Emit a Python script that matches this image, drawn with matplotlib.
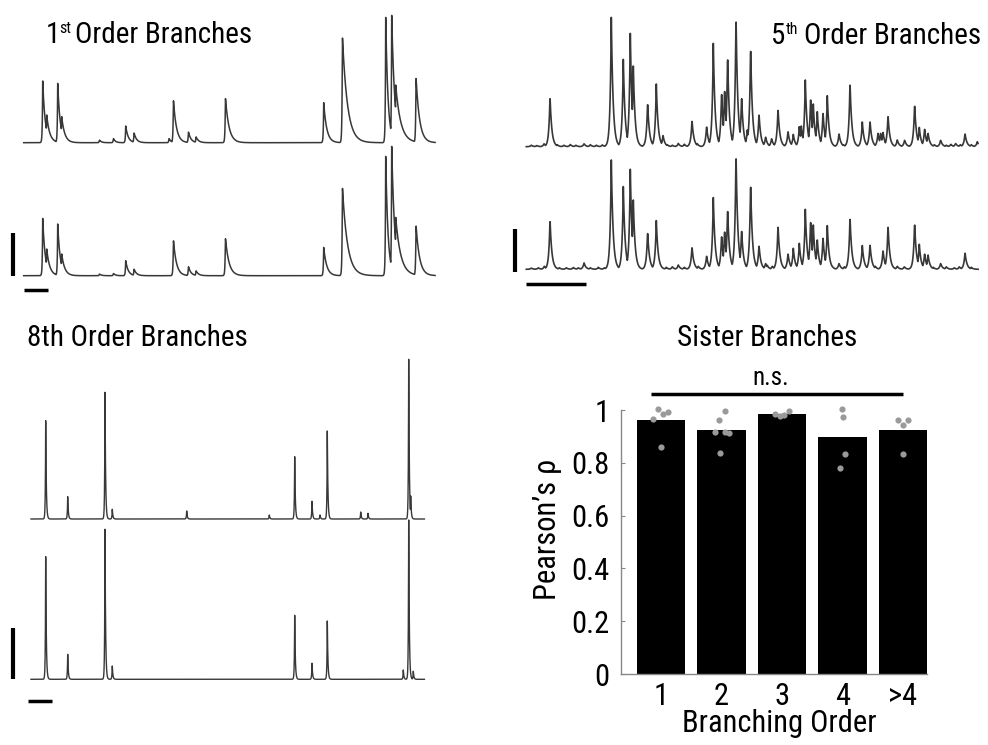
import numpy as np
import matplotlib
matplotlib.use("Agg")
import matplotlib.pyplot as plt
from matplotlib import font_manager as fm

W, H = 988, 745

# ---- font: prefer a condensed sans ----
_names = {f.name for f in fm.fontManager.ttflist}
FONT = "DejaVu Sans"
for cand in ["Roboto Condensed", "Liberation Sans Narrow", "Open Sans Condensed", "Liberation Sans"]:
    if cand in _names:
        FONT = cand
        break
plt.rcParams["font.family"] = [FONT, "DejaVu Sans"]

# ---- 1st order branches: event times, peak amplitudes, decay constants ----
p1_top_t = [19.0, 23.0, 34.0, 38.0, 75.7, 89.7, 102.0, 110.3, 145.3, 149.7, 164.7, 172.3,
            201.7, 300.0, 318.7, 362.0, 368.0, 372.0, 392.3]
p1_top_a = [61.7, 27.7, 59.3, 26.0, 2.7, 4.3, 16.7, 10.0, 4.3, 43.3, 11.0, 6.0,
            45.3, 40.0, 106.7, 125.3, 127.3, 57.7, 66.0]
p1_bot_t = [19.0, 23.0, 34.0, 38.0, 75.7, 89.7, 102.0, 110.3, 149.7, 164.7, 172.3,
            201.7, 300.0, 318.7, 334.7, 362.0, 368.0, 372.0, 392.3]
p1_bot_a = [57.3, 26.7, 51.7, 21.7, 1.7, 2.3, 15.0, 6.7, 36.0, 9.3, 5.0,
            38.0, 28.3, 89.0, 3.3, 119.3, 129.3, 58.3, 51.0]
p1_tau_top = [2.5, 3, 2.5, 3, 2, 2, 2.5, 2.5, 2, 3, 2.5, 2.5, 3.5, 3, 5, 2.3, 3, 5, 3.5]
p1_tau_bot = [2.5, 3, 2.5, 3, 2, 2, 2.5, 2.5, 3, 2.5, 2.5, 3.5, 3, 5, 3, 2.3, 3, 5, 3.5]

# ---- 5th order branches ----
p5_top_t = [17.7, 23.7, 57.7, 85.0, 97.0, 104.0, 107.0, 121.3, 130.0, 136.7, 152.0, 165.7,
            180.3, 187.0, 195.3, 198.3, 201.3, 209.7, 215.3, 221.0, 224.3, 232.7, 239.3,
            245.3, 251.7, 261.7, 267.0, 273.0, 275.0, 279.0, 284.3, 287.0, 291.0, 296.7,
            301.0, 312.7, 323.7, 336.0, 343.7, 351.7, 354.3, 356.7, 361.7, 371.0, 378.3,
            388.3, 393.0, 398.3, 401.7, 414.3, 429.3, 438.7, 451.0,
            # low-level baseline fluctuations
            5.0, 10.5, 31.0, 37.5, 44.0, 49.5, 64.0, 70.0, 76.0, 141.0, 146.0, 158.0,
            171.0, 305.5, 317.0, 408.0, 420.0, 424.5, 434.0, 445.0]
p5_top_a = [3.0, 50.7, 3.0, 129.3, 87.3, 113.3, 80.7, 44.3, 62.7, 11.7, 3.3, 26.7,
            20.7, 103.3, 55.0, 58.3, 91.7, 131.7, 50.7, 16.7, 100.7, 33.3, 10.0,
            8.3, 38.3, 15.7, 12.3, 20.0, 20.7, 66.7, 49.3, 42.7, 35.0, 35.0,
            51.0, 13.3, 65.0, 24.7, 26.0, 14.0, 14.0, 15.0, 31.7, 6.7, 6.7,
            42.7, 19.3, 18.3, 14.0, 6.7, 3.3, 13.3, 5.0,
            1.5, 1.2, 2.0, 1.5, 2.2, 1.5, 2.0, 1.5, 1.8, 2.0, 1.5, 2.5,
            3.0, 3.0, 2.0, 2.0, 1.5, 2.5, 2.0, 2.0]
p5_bot_t = [23.7, 57.7, 85.0, 97.0, 104.0, 107.0, 121.3, 130.0, 152.0, 165.7, 180.3, 187.0,
            195.3, 198.3, 201.3, 209.7, 215.3, 224.3, 232.7, 239.3, 251.7, 261.7, 267.0,
            273.0, 279.0, 284.3, 287.0, 291.0, 296.7, 301.0, 312.7, 323.7, 336.0, 343.7,
            356.7, 361.7, 388.3, 393.0, 398.3, 401.7, 414.3, 438.7,
            # low-level baseline fluctuations
            5.0, 12.0, 18.0, 33.0, 40.0, 47.0, 52.0, 64.0, 72.0, 78.0, 140.0, 146.0,
            158.0, 172.0, 241.0, 246.0, 306.0, 318.0, 349.0, 371.0, 378.0, 407.0,
            420.0, 428.0, 433.0, 445.0]
p5_bot_a = [50.3, 6.7, 109.3, 82.7, 100.0, 69.3, 37.7, 48.7, 4.3, 22.7, 13.7, 71.7,
            34.3, 39.3, 61.0, 116.7, 40.0, 86.7, 24.3, 6.0, 44.3, 16.0, 21.0,
            26.0, 60.0, 49.3, 44.3, 29.3, 32.7, 43.7, 6.0, 52.7, 23.7, 25.3,
            19.3, 44.3, 46.7, 25.0, 16.0, 15.0, 6.0, 17.0,
            1.2, 1.5, 3.0, 1.5, 1.5, 1.8, 1.5, 1.5, 2.0, 1.5, 2.0, 2.5,
            2.0, 3.0, 4.0, 3.0, 3.0, 2.5, 3.0, 3.0, 2.5, 2.0,
            2.5, 1.5, 2.5, 2.0]

# ---- 8th order branches ----
p8_top_t = [14.7, 36.7, 74.0, 81.3, 155.7, 238.3, 263.7, 281.0, 289.0, 296.3, 329.7, 337.0, 377.7, 379.7]
p8_top_a = [98.3, 22.3, 126.7, 9.7, 8.0, 4.0, 62.3, 17.7, 4.0, 88.0, 7.0, 5.7, 159.7, 23.0]
p8_bot_t = [14.7, 36.7, 74.0, 81.3, 263.7, 281.0, 296.3, 372.3, 377.7, 382.3]
p8_bot_a = [122.7, 25.0, 150.0, 13.3, 64.0, 16.0, 58.3, 9.3, 159.3, 8.0]

# ---- sister branch correlations ----
orders = ["1", "2", "3", "4", ">4"]
mean_rho = [0.961, 0.925, 0.984, 0.898, 0.925]
pts_rho = [[0.967, 1.005, 0.986, 0.991, 0.861],
           [0.961, 0.996, 0.918, 0.837, 0.918, 0.913],
           [0.986, 0.976, 0.981, 0.995],
           [1.005, 0.972, 0.834, 0.780],
           [0.961, 0.942, 0.961, 0.834]]
pts_dx = [[-0.13, -0.05, 0.03, 0.11, 0.0],
          [-0.04, 0.05, -0.11, -0.03, 0.05, 0.13],
          [-0.12, -0.04, 0.04, 0.12],
          [0.0, 0.01, 0.04, -0.04],
          [-0.08, 0.0, 0.09, 0.0]]

TRACE_C = "#383838"


def make_trace(t, times, amps, rise, decays):
    y = np.zeros_like(t)
    for t0, a, tau in zip(times, amps, decays):
        dt = t - t0
        k = np.where(dt >= 0, np.exp(-np.clip(dt, 0, None) / tau), np.exp(np.clip(dt, None, 0) / rise))
        y = np.maximum(y, a * k)
    return y


def px_axes(x0, y0, x1, y1, ox, oy):
    ax = fig.add_axes([x0 / W, 1 - y1 / H, (x1 - x0) / W, (y1 - y0) / H])
    ax.set_xlim(x0 - ox, x1 - ox)
    ax.set_ylim(oy - y1, oy - y0)
    ax.axis("off")
    return ax


def fx(x):
    return x / W


def fy(y):
    return 1 - y / H


fig = plt.figure(figsize=(W / 100, H / 100), dpi=100)
FS = 21

# ---------- 1st order ----------
ax1 = px_axes(0, 0, 494, 300, 23.7, 275.7)
t1 = np.arange(0, 411.5, 0.2)
ax1.plot(t1, make_trace(t1, p1_top_t, p1_top_a, 0.4, p1_tau_top) + 133.0, color=TRACE_C, lw=1.1)
ax1.plot(t1, make_trace(t1, p1_bot_t, p1_bot_a, 0.4, p1_tau_bot), color=TRACE_C, lw=1.1)
ax1.plot([-10.4, -10.4], [0, 43], color="black", lw=3, solid_capstyle="butt")
ax1.plot([0, 24], [-14.3, -14.3], color="black", lw=2.5, solid_capstyle="butt")

# ---------- 5th order ----------
ax2 = px_axes(494, 0, 988, 300, 526.3, 269.3)
t2 = np.arange(0, 452, 0.2)
ax2.plot(t2, make_trace(t2, p5_top_t, p5_top_a, 1.2, [1.8] * len(p5_top_t)) + 122.6, color=TRACE_C, lw=1.2)
ax2.plot(t2, make_trace(t2, p5_bot_t, p5_bot_a, 1.2, [1.8] * len(p5_bot_t)), color=TRACE_C, lw=1.2)
ax2.plot([-11.6, -11.6], [-2.4, 40], color="black", lw=3, solid_capstyle="butt")
ax2.plot([0, 60], [-14.7, -14.7], color="black", lw=2.5, solid_capstyle="butt")

# ---------- 8th order ----------
ax3 = px_axes(0, 300, 494, 745, 31.0, 679.3)
t3 = np.arange(0, 393.5, 0.1)
ax3.plot(t3, make_trace(t3, p8_top_t, p8_top_a, 0.35, [0.6] * len(p8_top_t)) + 160.3, color=TRACE_C, lw=1.0)
ax3.plot(t3, make_trace(t3, p8_bot_t, p8_bot_a, 0.35, [0.6] * len(p8_bot_t)), color=TRACE_C, lw=1.0)
ax3.plot([-17.7, -17.7], [0, 51], color="black", lw=3, solid_capstyle="butt")
ax3.plot([-2.7, 20.7], [-21.7, -21.7], color="black", lw=2.5, solid_capstyle="butt")

# ---------- panel titles (with superscript ordinals) ----------
fig.text(fx(46), fy(43), "1", fontsize=FS, ha="left", va="baseline")
fig.text(fx(59), fy(33), "st", fontsize=FS * 0.55, ha="left", va="baseline")
fig.text(fx(75), fy(43), "Order Branches", fontsize=FS, ha="left", va="baseline")
fig.text(fx(771), fy(44), "5", fontsize=FS, ha="left", va="baseline")
fig.text(fx(786), fy(34), "th", fontsize=FS * 0.55, ha="left", va="baseline")
fig.text(fx(804), fy(44), "Order Branches", fontsize=FS, ha="left", va="baseline")
fig.text(fx(27), fy(346), "8th Order Branches", fontsize=FS, ha="left", va="baseline")
fig.text(fx(767), fy(346), "Sister Branches", fontsize=FS, ha="center", va="baseline")

# ---------- bar chart ----------
axb = fig.add_axes([620.7 / W, (H - 674) / H, 306.3 / W, 264 / H])
xs = np.arange(1, len(orders) + 1)
axb.bar(xs, mean_rho, width=0.8, color="black", zorder=2)
for i, (vals, dxs) in enumerate(zip(pts_rho, pts_dx)):
    axb.scatter(xs[i] + np.array(dxs), vals, s=20, color="#9a9a9a", zorder=3, clip_on=False, linewidths=0)
axb.set_xlim(0.332, 5.4)
axb.set_ylim(0, 1)
axb.set_yticks([0, 0.2, 0.4, 0.6, 0.8, 1])
axb.set_yticklabels(["0", "0.2", "0.4", "0.6", "0.8", "1"])
axb.set_xticks(xs)
axb.set_xticklabels(orders)
axb.tick_params(axis="y", direction="in", length=3, color="#888888", labelsize=22, pad=8)
axb.tick_params(axis="x", direction="in", length=0, labelsize=22, pad=6)
for s in ["top", "right"]:
    axb.spines[s].set_visible(False)
for s in ["left", "bottom"]:
    axb.spines[s].set_color("#888888")
    axb.spines[s].set_linewidth(1.0)
axb.plot([0.829, 5.01], [1.059, 1.059], color="black", lw=2.5, clip_on=False, solid_capstyle="butt")
axb.text(2.82, 1.12, "n.s.", fontsize=18, ha="center", va="center", clip_on=False)
fig.text(fx(779), fy(723), "Branching Order", fontsize=22, ha="center", va="center")
fig.text(fx(547), fy(529), "Pearson\u2019s \u03c1", fontsize=22, ha="center", va="center", rotation=90)

fig.savefig("out.png", dpi=100)
